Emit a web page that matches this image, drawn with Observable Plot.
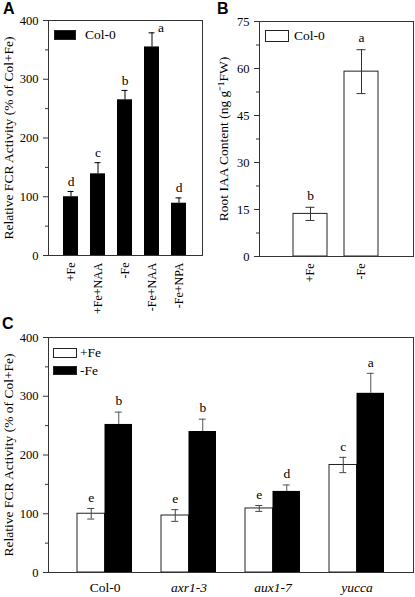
<!DOCTYPE html>
<html><head><meta charset="utf-8">
<script src="https://cdn.jsdelivr.net/npm/d3@7"></script>
<script src="https://cdn.jsdelivr.net/npm/@observablehq/plot@0.6"></script>
<style>
body{margin:0;background:#fff;}
#root{position:relative;width:415px;height:597px;overflow:hidden;font-family:"Liberation Serif";color:#000;}
svg{overflow:visible;}
.plabel{position:absolute;font-family:"Liberation Sans";font-weight:bold;font-size:16px;line-height:16px;}
.sw{position:absolute;box-sizing:border-box;border:1px solid #222;}
.lt{position:absolute;font-family:"Liberation Serif";font-size:13.5px;line-height:14px;white-space:nowrap;}
</style></head><body><div id="root"></div>
<script>
// ---- Panel A data ----
const catsA = ["+Fe", "+Fe+NAA", "-Fe", "-Fe+NAA", "-Fe+NPA"];
const valsA = [100, 139, 265, 355, 89];
const errA = [9, 19, 16, 24, 9];
const lettersA = ["d", "c", "b", "a", "d"];
// ---- Panel B data ----
const catsB = ["+Fe", "-Fe"];
const valsB = [13.6, 59];
const errB = [2.1, 7];
const lettersB = ["b", "a"];
// ---- Panel C data ----
const genotypes = ["Col-0", "axr1-3", "aux1-7", "yucca"];
const plusFe = [100, 97, 109, 183];
const plusFeErr = [9, 10, 5, 13];
const minusFe = [252, 240, 138, 305];
const minusFeErr = [21, 21, 11, 34];
const lettersPlus = ["e", "e", "e", "c"];
const lettersMinus = ["b", "b", "d", "a"];
// ---- tick labels ----
const ticksA = [0, 100, 200, 300, 400], minorA = [50, 150, 250, 350];
const ticksB = [0, 15, 30, 45, 60, 75], minorB = [7.5, 22.5, 37.5, 52.5, 67.5];
const titleA = "Relative FCR Activity (% of Col+Fe)";
const titleB = "Root IAA Content (ng g\u207B\u00B9FW)";

const serif = "Liberation Serif";
const root = document.getElementById("root");
function place(el, left, top) { el.style.position = "absolute"; el.style.left = left + "px"; el.style.top = top + "px"; root.appendChild(el); return el; }
function yAxes(major, minor) {
  return [
    Plot.axisY({ticks: major, tickSize: 5, tickPadding: 5, label: null, stroke: "#333", fontSize: 12.5}),
    Plot.axisY({ticks: minor, tickSize: 3, tickFormat: () => "", label: null, stroke: "#333"})
  ];
}
function yTitle(t, dx) {
  return Plot.text([t], {text: d => d, frameAnchor: "left", rotate: -90, dx, textAnchor: "middle", lineAnchor: "middle", fontSize: 13.5});
}
function build(fn) { const p = fn(null); const s = p.scale("x"); return fn(s.bandwidth); }
const base = {style: {fontFamily: serif, fontSize: "12.5px", background: "transparent", color: "#000", overflow: "visible"}};

// ---- Panel A ----
const dataA = catsA.map((c, i) => ({c, v: valsA[i], e: errA[i], L: lettersA[i]}));
const plotA = build(bw => Plot.plot({
  ...base, width: 210, height: 318, marginLeft: 48, marginRight: 8, marginTop: 20, marginBottom: 63,
  x: {type: "band", domain: catsA, paddingInner: 0.444, paddingOuter: 0.57, axis: null},
  y: {domain: [0, 400]},
  marks: [
    Plot.barY(dataA, {x: "c", y: "v", fill: "black"}),
    Plot.ruleX(dataA, {x: "c", y1: "v", y2: d => d.v + d.e, stroke: "black"}),
    Plot.tickY(dataA, {x: "c", y: d => d.v + d.e, stroke: "black", inset: (bw || 15) / 2 - 3}),
    Plot.text(dataA.filter(d => d.c !== "-Fe+NAA"), {x: "c", y: d => d.v + d.e, text: "L", dy: -10, lineAnchor: "middle", fontSize: 13.5}),
    Plot.text(dataA.filter(d => d.c === "-Fe+NAA"), {x: "c", y: d => d.v + d.e, text: "L", dx: 9, dy: -5, lineAnchor: "middle", fontSize: 13.5}),
    Plot.text(dataA, {x: "c", text: "c", frameAnchor: "bottom", rotate: -90, textAnchor: "end", lineAnchor: "middle", dy: 7, fontSize: 12}),
    Plot.frame({stroke: "#333"}),
    ...yAxes(ticksA, minorA),
    yTitle(titleA, -40)
  ]
}));
place(plotA, 0, 0);

// ---- Panel B ----
const dataB = catsB.map((c, i) => ({c, v: valsB[i], e: errB[i], L: lettersB[i]}));
const plotB = build(bw => Plot.plot({
  ...base, width: 205, height: 318, marginLeft: 49, marginRight: 2, marginTop: 21, marginBottom: 62,
  x: {type: "band", domain: catsB, paddingInner: 0.33, paddingOuter: 0.665, axis: null},
  y: {domain: [0, 75]},
  marks: [
    Plot.barY(dataB, {x: "c", y: "v", fill: "white", stroke: "#222"}),
    Plot.ruleX(dataB, {x: "c", y1: d => d.v - d.e, y2: d => d.v + d.e, stroke: "#333"}),
    Plot.tickY(dataB, {x: "c", y: d => d.v + d.e, stroke: "#333", inset: (bw || 34) / 2 - 4.5}),
    Plot.tickY(dataB, {x: "c", y: d => d.v - d.e, stroke: "#333", inset: (bw || 34) / 2 - 4.5}),
    Plot.text(dataB, {x: "c", y: d => d.v + d.e, text: "L", dy: -12, lineAnchor: "middle", fontSize: 13.5}),
    Plot.text(dataB, {x: "c", text: "c", frameAnchor: "bottom", rotate: -90, textAnchor: "end", lineAnchor: "middle", dy: 7, fontSize: 12}),
    Plot.frame({stroke: "#333"}),
    ...yAxes(ticksB, minorB),
    yTitle(titleB, -36)
  ]
}));
place(plotB, 210, 0);

// ---- Panel C ----
const dataC = genotypes.map((g, i) => ({g, p: plusFe[i], pe: plusFeErr[i], m: minusFe[i], me: minusFeErr[i], lp: lettersPlus[i], lm: lettersMinus[i]}));
const plotC = build(bw0 => {
  const bw = bw0 || 55, q = bw / 4, cap = 3.5;
  return Plot.plot({
    ...base, width: 415, height: 279, marginLeft: 48, marginRight: 2, marginTop: 19, marginBottom: 25,
    x: {type: "band", domain: genotypes, paddingInner: 0.348, paddingOuter: 0.342, axis: null},
    y: {domain: [0, 400]},
    marks: [
      Plot.barY(dataC, {x: "g", y: "p", fill: "white", stroke: "#222", insetRight: bw / 2}),
      Plot.barY(dataC, {x: "g", y: "m", fill: "black", insetLeft: bw / 2}),
      Plot.ruleX(dataC, {x: "g", y1: d => d.p - d.pe, y2: d => d.p + d.pe, dx: -q, stroke: "#444"}),
      Plot.tickY(dataC, {x: "g", y: d => d.p + d.pe, insetLeft: q - cap, insetRight: 3 * q - cap, stroke: "#444"}),
      Plot.tickY(dataC, {x: "g", y: d => d.p - d.pe, insetLeft: q - cap, insetRight: 3 * q - cap, stroke: "#444"}),
      Plot.ruleX(dataC, {x: "g", y1: "m", y2: d => d.m + d.me, dx: q, stroke: "#555"}),
      Plot.tickY(dataC, {x: "g", y: d => d.m + d.me, insetLeft: 3 * q - cap, insetRight: q - cap, stroke: "#555"}),
      Plot.text(dataC, {x: "g", y: d => d.p + d.pe, text: "lp", dx: -q, dy: -11, lineAnchor: "middle", fontSize: 13.5}),
      Plot.text(dataC, {x: "g", y: d => d.m + d.me, text: "lm", dx: q, dy: -11, lineAnchor: "middle", fontSize: 13.5}),
      Plot.text(dataC.filter(d => d.g === "Col-0"), {x: "g", text: "g", frameAnchor: "bottom", dy: 15, textAnchor: "middle", lineAnchor: "middle", fontSize: 13.5}),
      Plot.text(dataC.filter(d => d.g !== "Col-0"), {x: "g", text: "g", frameAnchor: "bottom", dy: 15, textAnchor: "middle", lineAnchor: "middle", fontSize: 13.5, fontStyle: "italic"}),
      Plot.frame({stroke: "#333"}),
      ...yAxes(ticksA, minorA),
      yTitle(titleA, -40)
    ]
  });
});
place(plotC, 0, 318);

// ---- panel letters ----
[["A", 3, 1], ["B", 217, 1], ["C", 2, 316]].forEach(([t, x, y]) => { const d = document.createElement("div"); d.className = "plabel"; d.textContent = t; place(d, x, y); });

// ---- legends ----
function swatch(x, y, w, h, fill) { const s = document.createElement("div"); s.className = "sw"; s.style.width = w + "px"; s.style.height = h + "px"; s.style.background = fill; place(s, x, y); }
function ltext(t, x, y) { const s = document.createElement("div"); s.className = "lt"; s.textContent = t; place(s, x, y); }
swatch(54, 30, 22, 10, "black"); ltext("Col-0", 85, 28);
swatch(265, 30, 24, 12, "white"); ltext("Col-0", 294, 29);
swatch(53, 348, 24, 10, "white"); ltext("+Fe", 80, 346);
swatch(53, 366, 24, 9, "black"); ltext("-Fe", 80, 364);
</script></body></html>
